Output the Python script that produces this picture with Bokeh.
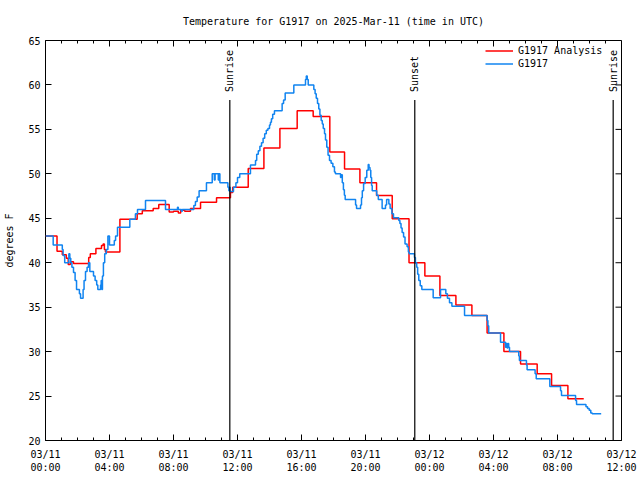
import math
from bokeh.plotting import figure
from bokeh.models import Range1d, FixedTicker, Legend, LegendItem
from bokeh.embed import file_html
from bokeh.resources import INLINE
from bokeh.core.properties import value

TITLE = "Temperature for G1917 on 2025-Mar-11 (time in UTC)"
Y_LABEL = "degrees F"
FONT = "DejaVu Sans Mono"

# x is hours since 03/11 00:00 UTC
X_MIN, X_MAX = 0, 36
Y_MIN, Y_MAX = 20, 65
x_tick_hours = [0, 4, 8, 12, 16, 20, 24, 28, 32, 36]
x_tick_labels = ["03/11\n00:00", "03/11\n04:00", "03/11\n08:00", "03/11\n12:00",
                 "03/11\n16:00", "03/11\n20:00", "03/12\n00:00", "03/12\n04:00",
                 "03/12\n08:00", "03/12\n12:00"]
x_minor_hours = list(range(0, 37))
y_ticks = [20, 25, 30, 35, 40, 45, 50, 55, 60, 65]

# G1917 Analysis (red)
analysis_hours = [0.0, 0.72, 1.05, 1.3, 1.42, 1.55, 1.75, 2.7, 2.8, 3.15, 3.5, 3.6, 3.68, 3.75,
                  4.65, 5.73, 6.05, 6.73, 7.08, 7.73, 8.0, 8.3, 8.45, 8.7, 9.06, 9.69, 10.69,
                  11.56, 11.7, 12.67, 13.65, 14.65, 15.73, 16.73, 17.77, 18.69, 19.65, 20.69,
                  21.67, 22.72, 23.71, 24.65, 25.65, 26.65, 27.6, 28.65, 29.69, 30.73, 31.63,
                  32.65, 33.64]
analysis_temps = [43.0, 41.3, 40.9, 40.5, 39.8, 40.1, 39.9, 40.6, 41.0, 41.6, 41.95, 42.1, 41.5, 41.2,
                  44.9, 45.5, 45.85, 46.1, 46.55, 45.7, 45.8, 45.6, 45.9, 45.8, 46.1, 46.8, 47.3,
                  47.9, 48.5, 50.6, 52.9, 55.1, 57.1, 56.45, 52.45, 50.55, 49.0, 47.55,
                  44.95, 40.0, 38.5, 36.3, 35.25, 34.05, 32.1, 30.0, 28.6, 27.5, 26.2,
                  24.7, 24.7]

# G1917 observations (blue)
obs_hours = [0.0, 0.48, 1.05, 1.1, 1.2, 1.46, 1.52, 1.58, 1.65, 1.75, 1.85, 1.94, 2.12, 2.19,
             2.35, 2.41, 2.5, 2.6, 2.69, 2.77, 3.0, 3.1, 3.2, 3.27, 3.44, 3.48, 3.52, 3.56,
             3.62, 3.7, 3.8, 3.9, 4.0, 4.3, 4.38, 4.5, 5.27, 5.62, 5.75, 6.25, 7.5, 8.25,
             8.3, 8.5, 8.55, 9.27, 9.37, 9.48, 9.6, 10.06, 10.42, 10.55, 10.6, 10.8, 10.85,
             10.9, 11.4, 11.46, 11.5, 11.54, 11.75, 11.9, 12.0, 12.14, 12.81, 13.125, 13.2,
             13.3, 13.4, 13.5, 13.6, 13.7, 13.8, 13.9, 14.0, 14.06, 14.12, 14.2, 14.31,
             14.79, 14.88, 14.98, 15.52, 16.25, 16.3, 16.36, 16.42, 16.77, 16.85, 16.92,
             17.0, 17.08, 17.15, 17.23, 17.3, 17.36, 17.44, 17.5, 17.58, 17.66, 17.75,
             17.85, 17.96, 18.06, 18.12, 18.44, 18.48, 18.55, 18.62, 18.68, 18.73, 19.38,
             19.44, 19.69, 19.75, 19.8, 19.88, 19.98, 20.08, 20.17, 20.22, 20.28, 20.33,
             20.38, 20.42, 20.7, 20.8, 21.04, 21.25, 21.32, 21.46, 21.54, 21.65, 21.75,
             22.08, 22.15, 22.22, 22.29, 22.38, 22.47, 22.6, 22.68, 22.73, 23.06, 23.12,
             23.2, 23.26, 23.33, 23.42, 23.52, 24.23, 24.69, 25.02, 25.12, 25.25, 25.4,
             26.19, 27.6, 27.65, 27.7, 28.44, 28.75, 28.8, 28.85, 28.9, 28.95, 29.0, 29.58,
             29.62, 30.06, 30.1, 30.6, 30.67, 31.52, 32.19, 32.25, 33.13, 33.19, 33.78,
             33.88, 33.98, 34.08, 34.17, 34.73]
obs_temps = [43.0, 42.0, 41.5, 40.8, 40.0, 41.0, 40.5, 40.0, 39.5, 38.9, 38.0, 37.0, 36.5, 36.0,
             37.0, 38.0, 39.0, 39.5, 40.0, 39.0, 38.5, 38.0, 37.5, 37.0, 37.5, 38.0, 37.0, 38.5,
             40.0, 41.0, 41.5, 43.0, 42.0, 42.5, 43.0, 44.0, 44.9, 45.5, 46.0, 47.0, 46.0, 46.25,
             46.0, 45.8, 46.0, 46.45, 46.9, 47.4, 48.1, 49.0, 50.0, 49.3, 50.0, 49.3, 50.0,
             49.0, 48.5, 48.1, 48.5, 48.0, 48.5, 49.0, 49.6, 50.0, 51.0, 51.5, 52.2,
             52.6, 53.1, 53.5, 54.0, 54.5, 54.9, 55.1, 55.5, 55.8, 56.2, 56.7, 57.1,
             57.9, 58.3, 59.1, 60.0, 60.6, 61.0, 60.6, 60.0, 59.5, 59.0, 58.5,
             57.9, 57.3, 56.6, 56.0, 55.6, 55.1, 54.5, 53.8, 53.0, 52.1, 51.5,
             51.2, 50.8, 50.2, 50.0, 49.6, 49.9, 49.0, 48.2, 47.6, 47.1, 46.5,
             46.1, 46.5, 47.3, 48.1, 48.9, 49.6, 50.4, 51.05, 50.7, 50.4, 49.6,
             48.7, 48.1, 47.6, 47.1, 46.1, 46.5, 47.1, 46.6, 46.1, 45.5, 45.05,
             44.75, 44.4, 43.9, 43.4, 42.9, 42.1, 41.8, 41.2, 41.0, 40.6, 40.0,
             39.5, 38.7, 38.0, 37.4, 37.0, 36.05, 37.0, 36.5, 36.0, 35.5, 35.1,
             34.06, 33.5, 32.9, 32.1, 31.06, 30.5, 30.9, 30.4, 30.9, 30.5, 30.0, 29.5,
             29.0, 28.5, 27.95, 27.5, 26.94, 26.08, 25.6, 25.06, 24.5, 24.05, 23.8,
             23.6, 23.4, 23.1, 23.0, 23.0]

sun_event_hours = [11.52, 23.08, 35.48]
sun_event_names = ["Sunrise", "Sunset", "Sunrise"]

RED = "#ff0000"
BLUE = "#1184f0"

p = figure(frame_width=576, frame_height=400,
           x_range=Range1d(X_MIN, X_MAX), y_range=Range1d(Y_MIN, Y_MAX),
           output_backend="svg", toolbar_location=None,
           min_border_left=45, min_border_right=19, min_border_top=40, min_border_bottom=38)

p.title.text = TITLE
p.title.align = "center"
p.title.text_font = FONT
p.title.text_font_size = "10px"
p.title.text_font_style = "normal"
p.title.text_color = "black"
p.title.standoff = 27

p.xgrid.visible = False
p.ygrid.visible = False
p.outline_line_color = "black"
p.outline_line_alpha = 1.0
p.outline_line_width = 1
p.background_fill_color = "white"
p.border_fill_color = "white"


def style_axis(ax):
    ax.axis_line_color = None
    ax.major_tick_in = 6
    ax.major_tick_out = 0
    ax.minor_tick_in = 3
    ax.minor_tick_out = 0
    ax.major_tick_line_color = "black"
    ax.minor_tick_line_color = "black"
    ax.major_label_text_font = FONT
    ax.major_label_text_font_size = "10px"
    ax.major_label_text_color = "black"


xa = p.xaxis[0]
xa.ticker = FixedTicker(ticks=x_tick_hours, minor_ticks=x_minor_hours)
xa.major_label_overrides = {h: lab for h, lab in zip(x_tick_hours, x_tick_labels)}
style_axis(xa)
xa.major_label_standoff = 8

ya = p.yaxis[0]
ya.ticker = FixedTicker(ticks=y_ticks, minor_ticks=[])
style_axis(ya)
ya.major_label_standoff = 5
ya.axis_label = Y_LABEL
ya.axis_label_text_font = FONT
ya.axis_label_text_font_size = "10px"
ya.axis_label_text_font_style = "normal"
ya.axis_label_text_color = "black"
ya.axis_label_standoff = 10

# mirrored ticks on the top and right borders (gnuplot style)
p.ray(x=x_tick_hours, y=[Y_MAX] * len(x_tick_hours), length=6, length_units="screen",
      angle=-math.pi / 2, line_color="black", line_width=1)
p.ray(x=x_minor_hours, y=[Y_MAX] * len(x_minor_hours), length=3, length_units="screen",
      angle=-math.pi / 2, line_color="black", line_width=1)
p.ray(x=[X_MAX] * len(y_ticks), y=y_ticks, length=6, length_units="screen",
      angle=math.pi, line_color="black", line_width=1)

r_red = p.step(analysis_hours, analysis_temps, mode="after", line_color=RED, line_width=1.5)
r_blue = p.step(obs_hours, obs_temps, mode="after", line_color=BLUE, line_width=1.5)

# sunrise / sunset markers
p.segment(x0=sun_event_hours, y0=[Y_MIN] * len(sun_event_hours),
          x1=sun_event_hours, y1=[58.3] * len(sun_event_hours),
          line_color="black", line_width=1.2)
p.text(x=sun_event_hours, y=[59.2] * len(sun_event_hours), text=sun_event_names,
       angle=math.pi / 2, text_align="left", text_baseline="middle",
       text_font=value(FONT), text_font_size="10px", text_color="black")

legend = Legend(items=[LegendItem(label="G1917 Analysis", renderers=[r_red]),
                       LegendItem(label="G1917", renderers=[r_blue])],
                location=(440, 370), border_line_color=None, background_fill_alpha=0,
                label_text_font=FONT, label_text_font_size="10px", label_text_color="black",
                glyph_width=28, glyph_height=13, label_height=13, spacing=0,
                padding=2, margin=0, label_standoff=5)
p.add_layout(legend)

open("out.html", "w").write(file_html(p, INLINE))
